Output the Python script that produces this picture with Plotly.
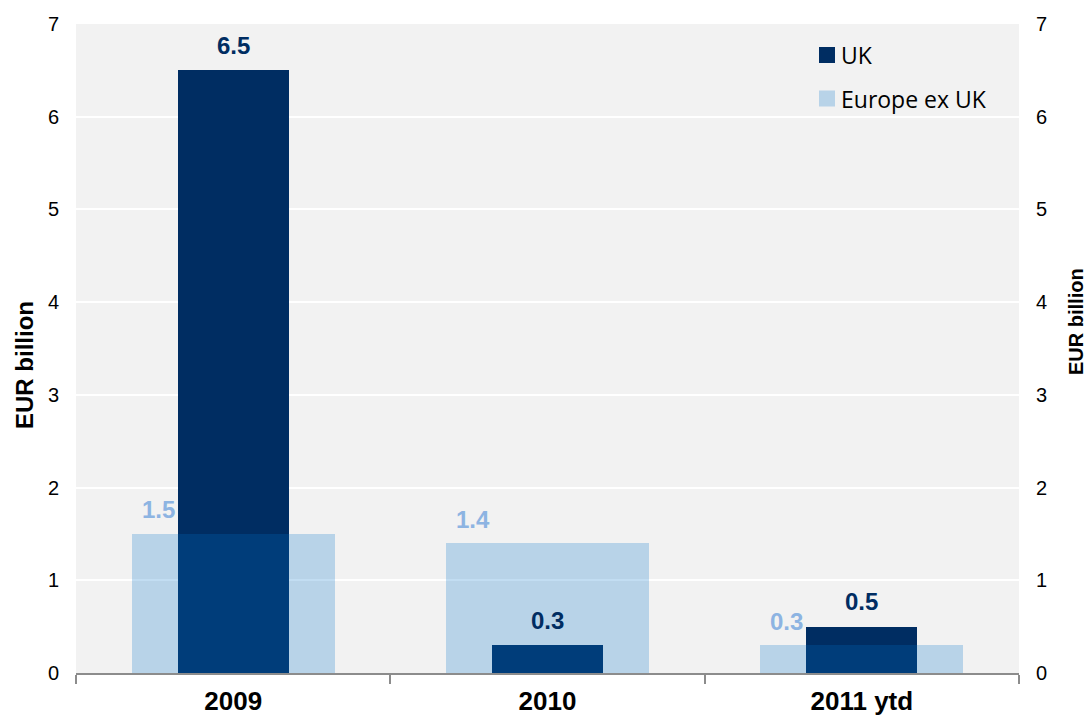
import plotly.graph_objects as go

# Data (EUR billion)
categories = ["2009", "2010", "2011 ytd"]
uk_values = [6.5, 0.3, 0.5]
europe_ex_uk_values = [1.5, 1.4, 0.3]
y_ticks = [0, 1, 2, 3, 4, 5, 6, 7]

NAVY = "#002D62"
LIGHT = "rgba(0,112,200,0.24)"
LIGHT_LABEL = "#8DB4E2"
PLOT_BG = "#F2F2F2"
FONT = "Liberation Sans, Arial, sans-serif"

fig = go.Figure()

# UK bars (narrow, dark) drawn first
fig.add_trace(go.Bar(
    x=categories, y=uk_values, name="UK",
    marker=dict(color=NAVY, line=dict(width=0)),
    width=0.353, showlegend=False, hoverinfo="skip",
))
# Europe ex UK bars (wide, translucent) overlaid on top
fig.add_trace(go.Bar(
    x=categories, y=europe_ex_uk_values, name="Europe ex UK",
    marker=dict(color=LIGHT, line=dict(width=0)),
    width=0.646, showlegend=False, hoverinfo="skip",
))
# Invisible trace so the mirrored right-hand axis is rendered
fig.add_trace(go.Scatter(
    x=categories, y=[0, 0, 0], yaxis="y2", mode="markers",
    marker=dict(opacity=0), showlegend=False, hoverinfo="skip",
))

annotations = []
# Value labels (category axis positions given by index so "2009" is not read as a number)
for i, v in enumerate(uk_values):
    annotations.append(dict(
        x=i, y=v, xref="x", yref="y", text=f"<b>{v:.1f}</b>",
        showarrow=False, yanchor="middle", yshift=25,
        font=dict(family=FONT, size=24, color=NAVY),
    ))
for i, v in enumerate(europe_ex_uk_values):
    annotations.append(dict(
        x=i, y=v, xref="x", yref="y", text=f"<b>{v:.1f}</b>",
        showarrow=False, yanchor="middle", yshift=24, xshift=-75,
        font=dict(family=FONT, size=24, color=LIGHT_LABEL),
    ))

# Plot area in pixels
PL, PR, PT, PB = 76, 1019, 24, 673


def px_x(x):
    return (x - PL) / (PR - PL)


def px_y(y):
    return (PB - y) / (PB - PT)


# Axis titles
annotations.append(dict(
    x=px_x(25), y=px_y(365), xref="paper", yref="paper", text="<b>EUR billion</b>",
    showarrow=False, textangle=-90, xanchor="center", yanchor="middle",
    font=dict(family=FONT, size=24, color="#000000"),
))
annotations.append(dict(
    x=px_x(1076), y=px_y(322), xref="paper", yref="paper", text="<b>EUR billion</b>",
    showarrow=False, textangle=-90, xanchor="center", yanchor="middle",
    font=dict(family=FONT, size=20, color="#000000"),
))

# Legend
shapes = []
legend_items = [("UK", NAVY, 55), ("Europe ex UK", LIGHT, 98.5)]
for label, color, yc in legend_items:
    shapes.append(dict(
        type="rect", xref="paper", yref="paper",
        x0=px_x(819), x1=px_x(835), y0=px_y(yc + 8), y1=px_y(yc - 8),
        fillcolor=color, line=dict(width=0),
    ))
    annotations.append(dict(
        x=px_x(839), y=px_y(yc), xref="paper", yref="paper", text=label,
        showarrow=False, xanchor="left", yanchor="middle",
        font=dict(family="Open Sans, Noto Sans, sans-serif", size=23, color="#000000"),
    ))

fig.update_layout(
    width=1088, height=719,
    margin=dict(l=PL, r=1088 - PR, t=PT, b=719 - PB, autoexpand=False),
    paper_bgcolor="white", plot_bgcolor=PLOT_BG,
    barmode="overlay", bargap=0,
    showlegend=False,
    font=dict(family=FONT, color="#000000"),
    xaxis=dict(
        type="category", range=[-0.5, 2.5], automargin=False,
        showgrid=False, zeroline=False,
        showline=True, linecolor="#8C8C8C", linewidth=1.5,
        ticks="outside", tickson="boundaries", ticklen=9,
        tickcolor="#8C8C8C", tickwidth=1.5,
        tickfont=dict(family=FONT, size=26, color="#000000"),
        ticklabelstandoff=4,
        tickprefix="<b>", ticksuffix="</b>",
    ),
    yaxis=dict(
        range=[0, 7], tickvals=y_ticks, automargin=False,
        showgrid=True, gridcolor="white", gridwidth=2,
        zeroline=False, showline=False, ticks="",
        tickfont=dict(family=FONT, size=20, color="#000000"),
        ticklabelstandoff=16,
    ),
    yaxis2=dict(
        range=[0, 7], tickvals=y_ticks, overlaying="y", side="right",
        automargin=False,
        showgrid=False, zeroline=False, showline=False, ticks="",
        tickfont=dict(family=FONT, size=20, color="#000000"),
        ticklabelstandoff=16,
    ),
    annotations=annotations,
    shapes=shapes,
)

fig.write_html("out.html")
